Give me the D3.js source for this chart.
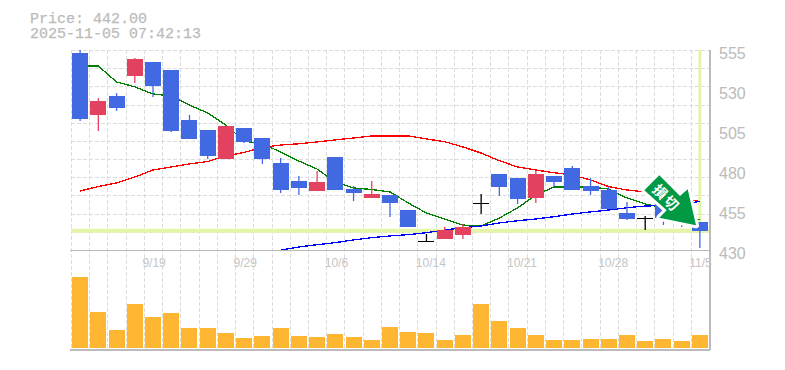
<!DOCTYPE html>
<html>
<head>
<meta charset="utf-8">
<script src="https://cdn.jsdelivr.net/npm/d3@7"></script>
<style>
    html, body { margin: 0; padding: 0; background: #fff; }
    svg { display: block; }
</style>
</head>
<body>
<div id="chart"></div>
<script>
const dates = ["9/12","9/16","9/17","9/18","9/19","9/22","9/24","9/25","9/26","9/29",
    "9/30","10/1","10/2","10/3","10/6","10/7","10/8","10/9","10/10","10/14",
    "10/15","10/16","10/17","10/20","10/21","10/22","10/23","10/24","10/27","10/28",
    "10/29","10/30","10/31","11/4","11/5"];
const tickDates = ["9/19","9/29","10/6","10/14","10/21","10/28","11/5"];
const priceTicks = [430,455,480,505,530,555];

const opens = [553.1,514.4,526.3,538.8,547.5,542.5,511.3,505,486.9,506.3,
    500,484.4,473.1,466.9,488.1,468.1,462.5,464.4,455,435.6,
    436.9,439.4,459.4,477.5,475,462.5,476.3,481.3,470,467.5,
    453.1,450,460.6,459,447.5];
const highs = [555,525,528.1,550,547.5,542.5,514.4,505,507.5,506.3,
    500,487.5,476.3,479.4,488.1,470,473.1,464.4,455,440,
    444.4,446.3,465,477.5,475,479.4,476.3,482.5,475,469.4,
    460,451.3,460.6,459,447.5];
const lows = [510.6,504.4,516.9,534.4,525.6,503.8,499.4,486.9,486.9,496.9,
    483.8,465.6,464.4,466.9,467.5,460.6,462.5,450.6,444.4,435,
    436.9,436.9,452.5,463.8,458.8,459.4,469.4,467.5,464.4,455.6,
    448.8,442.5,445.6,444.4,431.3];
const closes = [511.9,523.1,518.8,549.4,532.5,504.4,499.4,488.8,507.5,497.5,
    486.9,467.5,468.8,472.5,467.5,465.6,465,459.4,444.4,435.6,
    442.5,444.4,459.4,469.4,461.9,477.5,472.5,467.5,466.9,455.6,
    449.4,450,450,447.5,442];

const maShort = [545,545,535,532,527.5,526.3,520.6,515.6,508.1,498.1,
    496.3,491.3,485.6,480.6,472.5,468.8,467.8,466.3,459.4,453.1,
    449.4,445.6,445,450,456.3,464.4,469.4,469.4,469.4,468.1,
    462.5,458.8,456.3,451.9,448.8];
const maMid = [466.9,469.7,471.9,475.6,480,481.9,483.8,485.3,488.8,491,
    494.1,495.6,496.4,497.5,498.8,500,501.3,501.3,501.3,499.4,
    497.7,494.4,490.6,485.8,481.9,480,478.3,476.9,473.8,469.6,
    467.5,466.3,465,462.5,460.3];
const maLong = [null,null,null,null,null,null,null,null,null,null,
    null,430,431.9,433.3,434.6,436.3,437.7,438.8,439.6,440.8,
    442.5,443.9,445,446.9,448.3,449.4,450.8,452.5,453.8,455,
    456.4,457.5,457.8,458.8,460.3];

const volumes = [7100,3600,1800,4400,3100,3500,2000,2000,1500,1000,
    1200,2000,1200,1100,1400,1100,800,2100,1600,1500,
    800,1300,4400,2700,2000,1300,800,800,900,900,
    1300,700,900,700,1300];

const lastPrice = 442;
const lastDate = "11/5";

const margin = { left: 71, right: 76, top: 50 };
const width = 785, height = 370;
const priceBottom = 250, volumeBottom = 348, axisBottom = 350;
const gray = "#bbb";

const svg = d3.select("#chart")
    .append("svg")
    .attr("width", width)
    .attr("height", height);

const x = d3.scaleBand()
    .domain(dates)
    .range([margin.left, width - margin.right]);

const y = d3.scaleLinear()
    .domain([430, 555])
    .range([priceBottom, margin.top]);

const yVol = d3.scaleLinear()
    .domain([0, 7100])
    .range([volumeBottom, volumeBottom - 71]);

const center = d => x(d) + x.bandwidth() / 2;
const snap = v => Math.round(v) + 0.5;

// dashed grid
const grid = svg.append("g")
    .attr("stroke", "#ddd")
    .attr("stroke-dasharray", "4,2")
    .attr("shape-rendering", "crispEdges");

grid.selectAll(".vgrid")
    .data(dates)
    .join("line")
    .attr("x1", d => snap(x(d)))
    .attr("x2", d => snap(x(d)))
    .attr("y1", margin.top)
    .attr("y2", axisBottom);

grid.selectAll(".hgrid")
    .data(d3.range(0, 12).map(i => 430 + i * 125 / 11))
    .join("line")
    .attr("x1", margin.left)
    .attr("x2", x.range()[1])
    .attr("y1", d => snap(y(d)))
    .attr("y2", d => snap(y(d)));

// current price / date highlight
svg.append("line")
    .attr("x1", margin.left)
    .attr("x2", x.range()[1])
    .attr("y1", y(lastPrice))
    .attr("y2", y(lastPrice))
    .attr("stroke", "#e4f5a8")
    .attr("stroke-width", 4);
svg.append("line")
    .attr("x1", center(lastDate))
    .attr("x2", center(lastDate))
    .attr("y1", margin.top)
    .attr("y2", y(lastPrice))
    .attr("stroke", "#e4f5a8")
    .attr("stroke-width", 3);

// moving averages
const maLine = d3.line()
    .defined(d => d.v !== null)
    .x(d => center(d.date))
    .y(d => y(d.v));

[[maMid, "#f00"], [maShort, "#008000"], [maLong, "#00f"]].forEach(([values, color]) => {
    svg.append("path")
        .attr("d", maLine(values.map((v, i) => ({ date: dates[i], v: v }))))
        .attr("fill", "none")
        .attr("stroke", color)
        .attr("stroke-width", 1.3)
        .attr("shape-rendering", "crispEdges");
});

// candles
const candleData = dates.map((d, i) => ({ date: d, o: opens[i], h: highs[i], l: lows[i], c: closes[i] }));
const candleColor = d => d.c > d.o ? "#e24260" : d.c < d.o ? "#4169e1" : "#000";

const candles = svg.append("g")
    .selectAll("g")
    .data(candleData)
    .join("g");

candles.append("line")
    .attr("x1", d => center(d.date))
    .attr("x2", d => center(d.date))
    .attr("y1", d => y(d.h))
    .attr("y2", d => y(d.l))
    .attr("stroke", candleColor)
    .attr("stroke-width", 1.3);

candles.append("rect")
    .attr("x", d => center(d.date) - 8)
    .attr("y", d => y(Math.max(d.o, d.c)))
    .attr("width", 16)
    .attr("height", d => Math.max(1.2, Math.abs(y(d.o) - y(d.c))))
    .attr("fill", candleColor)
    .attr("shape-rendering", "crispEdges");

// volume
svg.append("g")
    .attr("shape-rendering", "crispEdges")
    .selectAll("rect")
    .data(volumes)
    .join("rect")
    .attr("x", (d, i) => center(dates[i]) - 8)
    .attr("y", d => yVol(d))
    .attr("width", 16)
    .attr("height", d => volumeBottom - yVol(d))
    .attr("fill", "#ffb733");

// axes frame
const frame = svg.append("g")
    .attr("stroke", gray)
    .attr("shape-rendering", "crispEdges");
frame.append("line")
    .attr("x1", margin.left - 1).attr("x2", x.range()[1] + 1)
    .attr("y1", priceBottom + 0.5).attr("y2", priceBottom + 0.5)
    .attr("stroke-width", 1);
frame.append("line")
    .attr("x1", margin.left - 1).attr("x2", x.range()[1] + 1)
    .attr("y1", axisBottom).attr("y2", axisBottom)
    .attr("stroke-width", 2);
frame.append("line")
    .attr("x1", x.range()[1] + 1).attr("x2", x.range()[1] + 1)
    .attr("y1", margin.top).attr("y2", axisBottom)
    .attr("stroke-width", 2);

// tick labels
const xAxis = svg.append("g")
    .attr("transform", `translate(0,${priceBottom})`)
    .call(d3.axisBottom(x).tickValues(tickDates).tickSize(0).tickPadding(5));
xAxis.select(".domain").remove();
xAxis.selectAll("text")
    .attr("text-anchor", "start")
    .attr("x", -x.bandwidth() / 2 - 1.5)
    .attr("y", 0)
    .attr("dy", 17)
    .attr("fill", "#c4c4c4")
    .style("font", "12px 'Liberation Sans', sans-serif");

const yAxis = svg.append("g")
    .attr("transform", `translate(${x.range()[1]},0)`)
    .call(d3.axisRight(y).tickValues(priceTicks).tickSize(0).tickPadding(10));
yAxis.select(".domain").remove();
yAxis.selectAll("text")
    .attr("dy", 8)
    .attr("fill", gray)
    .style("font", "16px 'Liberation Sans', sans-serif");

// title
const title = svg.append("g")
    .attr("fill", gray)
    .attr("stroke", gray)
    .attr("stroke-width", 0.25)
    .style("font", "15px 'Liberation Mono', monospace");
title.append("text").attr("x", 30).attr("y", 23).text("Price: 442.00");
title.append("text").attr("x", 30).attr("y", 38).text("2025-11-05 07:42:13");

// stop-loss arrow
const arrowShape = [[659.3,175.3],[680,196],[687.7,189.3],[696,225.3],[659.3,217.7],[666.7,210.3],[644.3,190.3]];
const arrow = d3.line().curve(d3.curveLinearClosed)(arrowShape);
svg.append("path")
    .attr("d", arrow)
    .attr("fill", "#fff")
    .attr("stroke", "#fff")
    .attr("stroke-width", 6)
    .attr("stroke-linejoin", "round");
svg.append("path")
    .attr("d", arrow)
    .attr("fill", "#009944");
svg.append("text")
    .attr("transform", "translate(667,197.5) rotate(45)")
    .attr("text-anchor", "middle")
    .attr("dominant-baseline", "central")
    .attr("fill", "#fff")
    .attr("letter-spacing", 2)
    .style("font", "bold 14px 'Noto Sans CJK JP', sans-serif")
    .text("損切");
</script>
</body>
</html>
